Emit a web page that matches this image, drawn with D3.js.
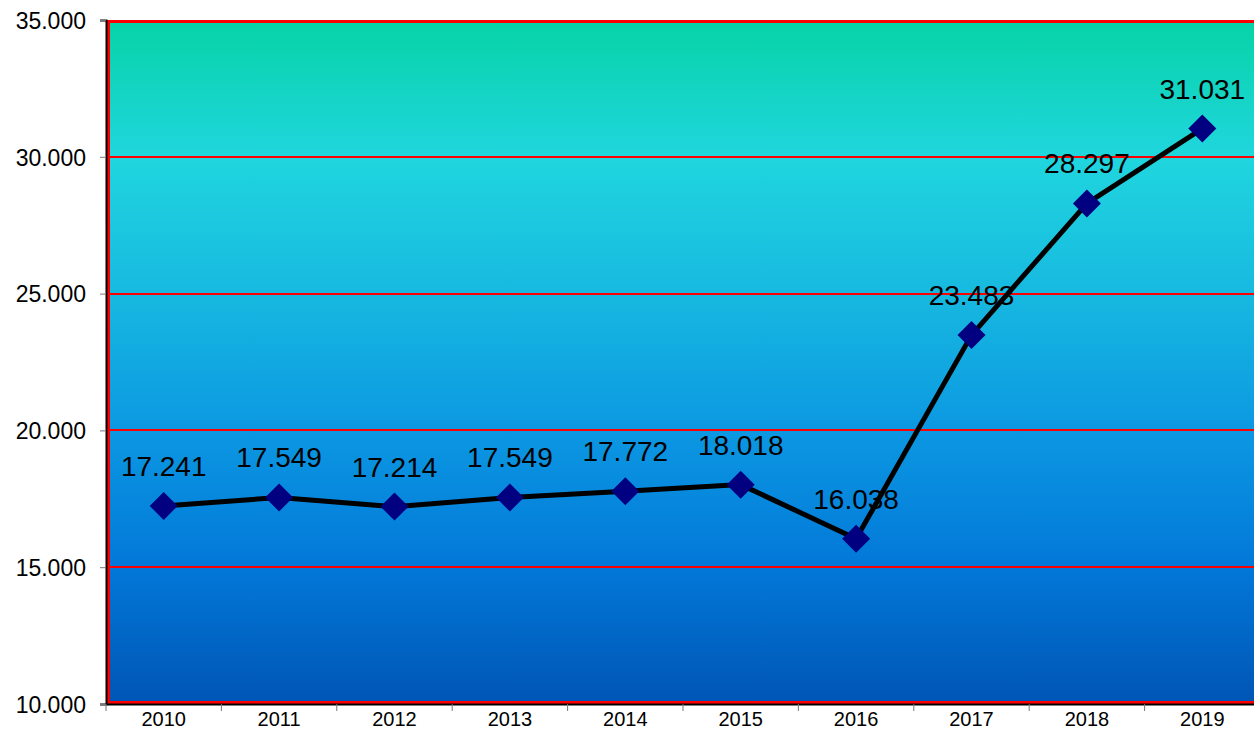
<!DOCTYPE html>
<html lang="en">
  <head>
    <meta charset="utf-8">
    <style>
      body { margin: 0; background: #fff; }
      text { font-family: "Liberation Sans", Arial, sans-serif; fill: #000; }
    </style>
  </head>
  <body>
    <script src="https://cdn.jsdelivr.net/npm/d3@7"></script>
    <script>
      // data
      var years = ["2010", "2011", "2012", "2013", "2014", "2015", "2016", "2017", "2018", "2019"];
      var values = [17241, 17549, 17214, 17549, 17772, 18018, 16038, 23483, 28297, 31031];
      var yTicks = [10000, 15000, 20000, 25000, 30000, 35000];

      var width = 1254, height = 731;
      var margin = {top: 20, right: -6, bottom: 27, left: 106};
      var w = width - margin.left - margin.right,
          h = height - margin.top - margin.bottom;

      var fmt = function(v) { return d3.format(",")(v).replace(/,/g, "."); };

      var svg = d3.select("body").append("svg")
        .attr("width", width)
        .attr("height", height);

      // background gradient
      var grad = svg.append("defs").append("linearGradient")
        .attr("id", "bg").attr("x1", 0).attr("y1", 0).attr("x2", 0).attr("y2", 1);
      [["0", "#06d3a6"], ["0.2", "#20d6de"], ["0.4", "#17b9e0"],
       ["0.6", "#0c98e2"], ["0.8", "#0278d8"], ["1", "#0055b5"]].forEach(function(s) {
        grad.append("stop").attr("offset", s[0]).attr("stop-color", s[1]);
      });

      var g = svg.append("g")
        .attr("transform", "translate(" + margin.left + "," + margin.top + ")");

      var x = d3.scaleBand().domain(years).range([0, w]);
      var y = d3.scaleLinear().domain([10000, 35000]).range([h, 0]);

      g.append("rect")
        .attr("width", w).attr("height", h)
        .attr("fill", "url(#bg)");

      // gridlines
      g.selectAll(".grid")
        .data(yTicks.slice(1, -1))
        .enter().append("line")
        .attr("x1", 0).attr("x2", w)
        .attr("y1", function(d) { return Math.round(y(d)); })
        .attr("y2", function(d) { return Math.round(y(d)); })
        .attr("stroke", "#ff0000").attr("stroke-width", 2)
        .attr("shape-rendering", "crispEdges");

      // red frame
      g.append("rect")
        .attr("x", 2.5).attr("y", 1.5)
        .attr("width", w).attr("height", h - 3)
        .attr("fill", "none").attr("stroke", "#ff0000").attr("stroke-width", 3)
        .attr("shape-rendering", "crispEdges");

      // y axis
      var yAxis = g.append("g")
        .call(d3.axisLeft(y).tickValues(yTicks).tickFormat(fmt).tickSize(6).tickPadding(14));
      yAxis.select(".domain").attr("stroke", "#000").attr("stroke-width", 2);
      yAxis.selectAll(".tick line").attr("stroke", "#777");
      yAxis.selectAll("text").style("font-size", "23px").attr("dy", "0.36em");

      // x axis
      var xAxis = g.append("g")
        .attr("transform", "translate(0," + h + ")")
        .call(d3.axisBottom(x).tickSize(0).tickPadding(8));
      xAxis.select(".domain").attr("stroke", "#000").attr("stroke-width", 2);
      xAxis.selectAll("text").style("font-size", "20px");
      xAxis.selectAll(".sep")
        .data(years)
        .enter().append("line")
        .attr("x1", function(d) { return x(d); })
        .attr("x2", function(d) { return x(d); })
        .attr("y1", 0).attr("y2", 7)
        .attr("stroke", "#777");

      var cx = function(d, i) { return x(years[i]) + x.bandwidth() / 2; };

      // line
      var line = d3.line()
        .x(function(d, i) { return cx(d, i); })
        .y(function(d) { return y(d); });
      g.append("path")
        .datum(values)
        .attr("d", line)
        .attr("fill", "none")
        .attr("stroke", "#000")
        .attr("stroke-width", 5);

      // diamond markers
      g.selectAll(".mark")
        .data(values)
        .enter().append("path")
        .attr("d", "M0,-14L14,0L0,14L-14,0Z")
        .attr("transform", function(d, i) { return "translate(" + cx(d, i) + "," + y(d) + ")"; })
        .attr("fill", "#000080");

      // value labels
      g.selectAll(".lbl")
        .data(values)
        .enter().append("text")
        .attr("x", function(d, i) { return cx(d, i); })
        .attr("y", function(d) { return y(d) - 30; })
        .attr("text-anchor", "middle")
        .style("font-size", "28px")
        .text(fmt);
    </script>
  </body>
</html>
